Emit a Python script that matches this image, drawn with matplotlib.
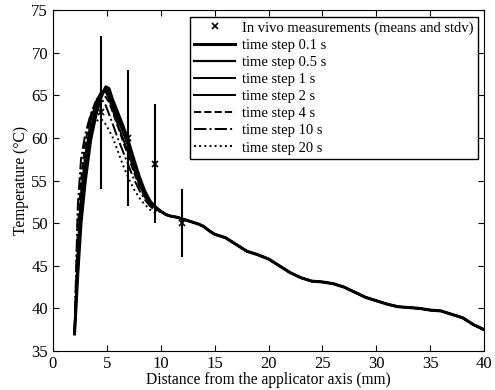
import matplotlib
matplotlib.use('Agg')
import matplotlib.pyplot as plt

plt.rcParams['font.family'] = ['Liberation Serif', 'DejaVu Serif']

# In vivo measurements (means and stdv)
meas_x = [4.5, 7, 9.5, 12]
meas_mean = [63, 60, 57, 50]
meas_low = [54, 52, 50, 46]
meas_high = [72, 68, 64, 54]

# near-field part of the simulated curves (differs per time step)
head_x = [2, 2.3, 2.6, 3.0, 3.5, 4.0, 4.5, 4.9, 5.2, 5.5, 6, 6.5, 7, 7.5, 8, 8.5, 9, 9.5]
T_01 = [37, 44, 50, 55, 59.8, 62.8, 64.9, 66.0, 65.8, 64.6, 63.0, 61.4, 59.6, 57.5, 55.5, 53.8, 52.6, 51.9]
T_05 = [37, 44.5, 50.8, 55.8, 60.4, 63.3, 65.2, 65.9, 65.5, 64.3, 62.7, 61.1, 59.3, 57.2, 55.2, 53.6, 52.5, 51.9]
T_1 = [37, 45.5, 51.8, 56.8, 61.0, 63.8, 65.4, 65.7, 65.1, 63.9, 62.2, 60.6, 58.9, 56.9, 55.0, 53.4, 52.4, 51.8]
T_2 = [37, 47, 53.5, 58, 62, 64.3, 65.5, 65.4, 64.6, 63.4, 61.6, 59.9, 58.2, 56.3, 54.6, 53.2, 52.3, 51.8]
T_4 = [37, 49, 55, 59.5, 62.6, 64.5, 65.1, 64.8, 64.2, 63.2, 61.4, 59.6, 57.8, 56.0, 54.4, 53.1, 52.2, 51.7]
T_10 = [37, 52, 57.5, 60.5, 62.8, 64.2, 64.6, 63.8, 62.8, 61.8, 60.0, 58.4, 56.8, 55.2, 53.9, 52.8, 52.0, 51.5]
T_20 = [37, 51, 56, 59, 61, 62, 62.2, 61.6, 60.9, 60.2, 58.5, 56.8, 55.3, 54.0, 53.0, 52.2, 51.6, 51.2]

# common far-field part
tail_x = [10, 10.5, 11, 11.5, 12, 12.5, 13, 13.5, 14, 14.5, 15, 16, 17, 18, 19, 20,
          21, 22, 23, 24, 25, 26, 27, 28, 29, 30, 31, 32, 33, 34, 35, 36, 37, 38, 39, 40]
tail_T = [51.4, 51.0, 50.8, 50.7, 50.5, 50.3, 50.1, 49.9, 49.6, 49.1, 48.7, 48.3, 47.5, 46.7,
          46.3, 45.8, 45.0, 44.2, 43.6, 43.2, 43.1, 42.9, 42.5, 41.9, 41.3, 40.9, 40.5, 40.2,
          40.1, 40.0, 39.8, 39.7, 39.3, 38.9, 38.1, 37.5]

series = [
    ('time step 0.1 s', T_01, '-', 2.2),
    ('time step 0.5 s', T_05, '-', 1.6),
    ('time step 1 s', T_1, '-', 1.4),
    ('time step 2 s', T_2, '-', 1.4),
    ('time step 4 s', T_4, '--', 1.4),
    ('time step 10 s', T_10, '-.', 1.4),
    ('time step 20 s', T_20, ':', 1.4),
]

fig = plt.figure(figsize=(4.95, 3.9), dpi=100)
ax = fig.add_axes([0.107, 0.1, 0.871, 0.874])

ax.vlines(meas_x, meas_low, meas_high, color='black', lw=1.5, zorder=3)
ax.plot(meas_x, meas_mean, 'x', color='black', ms=5, mew=1.2, zorder=4,
        label='In vivo measurements (means and stdv)')

for label, head_T, ls, lw in series:
    ax.plot(head_x + tail_x, head_T + tail_T, ls, color='black', lw=lw, label=label)

ax.set_xlim(0, 40)
ax.set_ylim(35, 75)
ax.set_xticks(range(0, 41, 5))
ax.set_yticks(range(35, 76, 5))
ax.tick_params(direction='in', top=True, right=True, labelsize=12, length=4)
ax.set_xlabel('Distance from the applicator axis (mm)', fontsize=11.2, labelpad=0)
ax.set_ylabel('Temperature (°C)', fontsize=11.2, labelpad=2)

leg = ax.legend(loc='upper right', fontsize=10.5, frameon=True, fancybox=False,
                edgecolor='black', framealpha=1, handlelength=2.8, borderpad=0.3,
                labelspacing=0.27, handletextpad=0.45, borderaxespad=0.45)
leg.get_frame().set_linewidth(1.0)

fig.savefig('out.png', dpi=100)
